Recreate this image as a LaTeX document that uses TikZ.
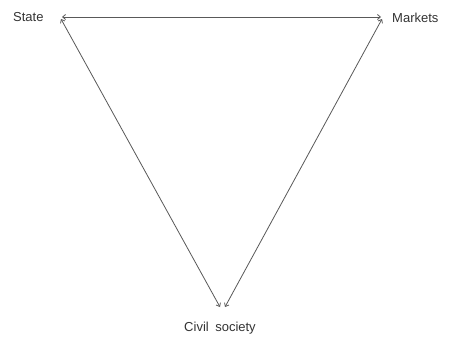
\documentclass[tikz,border=0pt]{standalone}
\usepackage{fontspec}
\setmainfont{Liberation Sans}
\usetikzlibrary{arrows.meta}
\begin{document}
\begin{tikzpicture}[x=1pt,y=1pt,
  lbl/.style={font=\fontsize{13}{15}\selectfont, text=black!80, inner sep=0pt},
  link/.style={draw=black!65, line width=0.8pt, {Straight Barb[length=3pt,width=5pt]}-{Straight Barb[length=3pt,width=5pt]}}]
\useasboundingbox[fill=white] (0,0) rectangle (450,338);
\coordinate (sv) at (62,321);
\coordinate (sd) at (61,319);
\coordinate (mv) at (381,321);
\coordinate (md) at (382,319);
\coordinate (cl) at (220,31);
\coordinate (cr) at (225,31);
\node[lbl, anchor=west] (state) at (13,321) {State};
\node[lbl, anchor=west] (markets) at (392,320) {Markets};
\node[lbl] (civil) at (220,10) {Civil\hspace{0.5em}society};
\draw[link] (sv) -- (mv);
\draw[link] (sd) -- (cl);
\draw[link] (md) -- (cr);
\end{tikzpicture}
\end{document}
